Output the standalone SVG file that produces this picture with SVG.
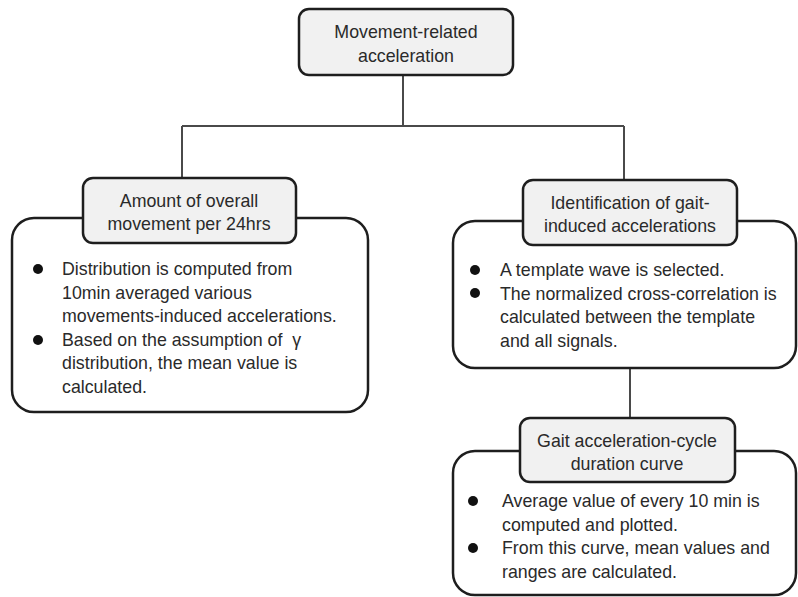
<svg xmlns="http://www.w3.org/2000/svg" width="798" height="597" viewBox="0 0 798 597">
<style>
text{font-family:"Liberation Sans",Arial,sans-serif;font-size:17.8px;fill:#2a2a2a}
.c{text-anchor:middle}
.hd{fill:#f1f1f1;stroke:#1e1e1e;stroke-width:2.5}
.bx{fill:#fff;stroke:#1e1e1e;stroke-width:2.5}
.ln{stroke:#4a4a4a;stroke-width:2;fill:none}
.dot{fill:#111}
</style>
<rect width="798" height="597" fill="#fff"/>
<g id="connectors">
<path class="ln" d="M403 75V126M182 126H624M182 126V178M624 126V181M630 368V418"/>
</g>
<g id="root">
<rect class="hd" x="299" y="9" width="214" height="66" rx="10"/>
<text class="c" x="406" y="38">Movement-related</text>
<text class="c" x="406" y="62">acceleration</text>
</g>
<g id="overall">
<rect class="bx" x="12" y="218" width="356" height="194" rx="22"/>
<rect class="hd" x="83" y="178" width="213" height="65" rx="10"/>
<text class="c" x="189" y="207">Amount of overall</text>
<text class="c" x="189" y="230">movement per 24hrs</text>
<circle class="dot" cx="38" cy="269" r="5"/>
<circle class="dot" cx="38" cy="340" r="5"/>
<text x="62" y="275">Distribution is computed from</text>
<text x="62" y="298.5">10min averaged various</text>
<text x="62" y="322">movements-induced accelerations.</text>
<text x="62" y="345.5" xml:space="preserve">Based on the assumption of  γ</text>
<text x="62" y="369">distribution, the mean value is</text>
<text x="62" y="392.5">calculated.</text>
</g>
<g id="gait">
<rect class="bx" x="453" y="221" width="343" height="147" rx="22"/>
<rect class="hd" x="523" y="180" width="214" height="65" rx="10"/>
<text class="c" x="630" y="209">Identification of gait-</text>
<text class="c" x="630" y="232">induced accelerations</text>
<circle class="dot" cx="475" cy="270" r="5"/>
<circle class="dot" cx="475" cy="293" r="5"/>
<text x="500" y="276">A template wave is selected.</text>
<text x="500" y="299.5">The normalized cross-correlation is</text>
<text x="500" y="323">calculated between the template</text>
<text x="500" y="346.5">and all signals.</text>
</g>
<g id="curve">
<rect class="bx" x="453" y="451" width="343" height="144" rx="22"/>
<rect class="hd" x="520" y="418" width="215" height="64" rx="10"/>
<text class="c" x="627" y="447">Gait acceleration-cycle</text>
<text class="c" x="627" y="470">duration curve</text>
<circle class="dot" cx="473" cy="501" r="5"/>
<circle class="dot" cx="473" cy="548" r="5"/>
<text x="502" y="507">Average value of every 10 min is</text>
<text x="502" y="530.5">computed and plotted.</text>
<text x="502" y="554">From this curve, mean values and</text>
<text x="502" y="577.5">ranges are calculated.</text>
</g>
</svg>
